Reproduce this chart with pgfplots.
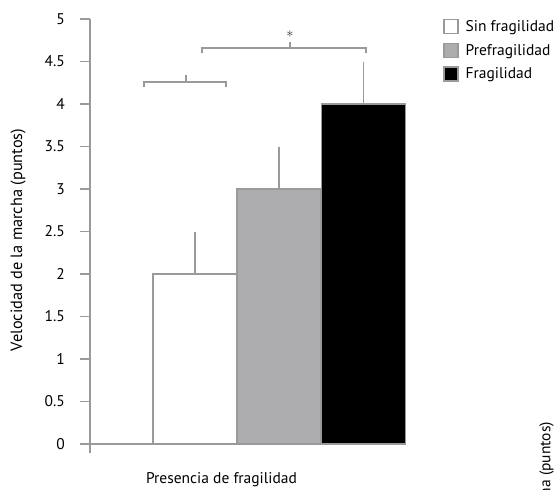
\documentclass[border=0pt]{standalone}
\usepackage{pgfplots}
\pgfplotsset{compat=1.18}
\usepackage{fontspec}
\setmainfont{PT Sans}
\definecolor{axgray}{HTML}{9A9A9A}
\definecolor{bargray}{HTML}{ADADB0}
\newcommand{\fs}{\fontsize{15.5}{18}\selectfont}
\begin{document}
\begin{tikzpicture}
\begin{axis}[
  x=1pt, y=85pt,
  xmin=90, xmax=405, ymin=-0.106, ymax=5,
  axis x line=none,
  axis y line=left,
  y axis line style={-, draw=axgray, line width=1.5pt},
  ytick={0,0.5,...,5},
  yticklabels={0,0.5,1,1.5,2,2.5,3,3.5,4,4.5,5},
  tick align=outside,
  major tick length=10pt,
  tick style={draw=axgray, line width=1.5pt},
  ticklabel style={font=\fs},
  yticklabel style={inner sep=0pt, xshift=-15pt, anchor=east},
  clip=false,
  legend style={draw=none, fill=none, at={(axis cs:443,5.01)}, anchor=north west,
    font=\fs, row sep=7.3pt, inner sep=0pt,
    legend cell align=left},
  legend image code/.code={\draw[#1, draw=axgray, line width=1.5pt] (0pt,-7pt) rectangle (14pt,7pt); \path (19pt,0pt);},
]
% x axis line
\addplot[draw=axgray, line width=1.5pt, forget plot] coordinates {(80,0) (378,0)};
% bars
\addplot[ybar, bar width=84, bar shift=0pt, fill=white, draw=axgray, line width=1.5pt,
  error bars/.cd, y dir=plus, y explicit, error mark=none,
  error bar style={draw=axgray, line width=1.5pt}]
  coordinates {(195,2) +- (0,0.5)};
\addlegendentry{Sin fragilidad}
\addplot[ybar, bar width=84, bar shift=0pt, fill=bargray, draw=axgray, line width=1.5pt,
  error bars/.cd, y dir=plus, y explicit, error mark=none,
  error bar style={draw=axgray, line width=1.5pt}]
  coordinates {(279,3) +- (0,0.5)};
\addlegendentry{Prefragilidad}
\addplot[ybar, bar width=84, bar shift=0pt, fill=black, draw=axgray, line width=1.5pt,
  error bars/.cd, y dir=plus, y explicit, error mark=none,
  error bar style={draw=axgray, line width=1.5pt}]
  coordinates {(363.5,4) +- (0,0.5)};
\addlegendentry{Fragilidad}
% brackets
\addplot[draw=axgray, line width=1.5pt, forget plot] coordinates {(144,4.2) (144,4.259) (226,4.259) (226,4.2)};
\addplot[draw=axgray, line width=1.5pt, forget plot] coordinates {(186,4.259) (186,4.341)};
\addplot[draw=axgray, line width=1.5pt, forget plot] coordinates {(202,4.6) (202,4.659) (366,4.659) (366,4.6)};
\addplot[draw=axgray, line width=1.5pt, forget plot] coordinates {(290,4.659) (290,4.729)};
\node[inner sep=0pt, text=black!80] at (axis cs:290,4.82) {\fontsize{15}{16}\selectfont$\ast$};
% labels
\node[font=\fs] at (axis cs:221.5,-0.42) {Presencia de fragilidad};
\node[font=\fontsize{16.3}{18}\selectfont, rotate=90] at (axis cs:18,2.4) {Velocidad de la marcha (puntos)};
\node[font=\fs, rotate=90, anchor=south east, inner sep=0pt] at (axis cs:554,0.26) {Velocidad de la marcha (puntos)};
\coordinate (bl) at (axis cs:0,-0.529);
\coordinate (tr) at (axis cs:554,5.224);
\end{axis}
\pgfresetboundingbox
\useasboundingbox (bl) rectangle (tr);
\end{tikzpicture}
\end{document}
